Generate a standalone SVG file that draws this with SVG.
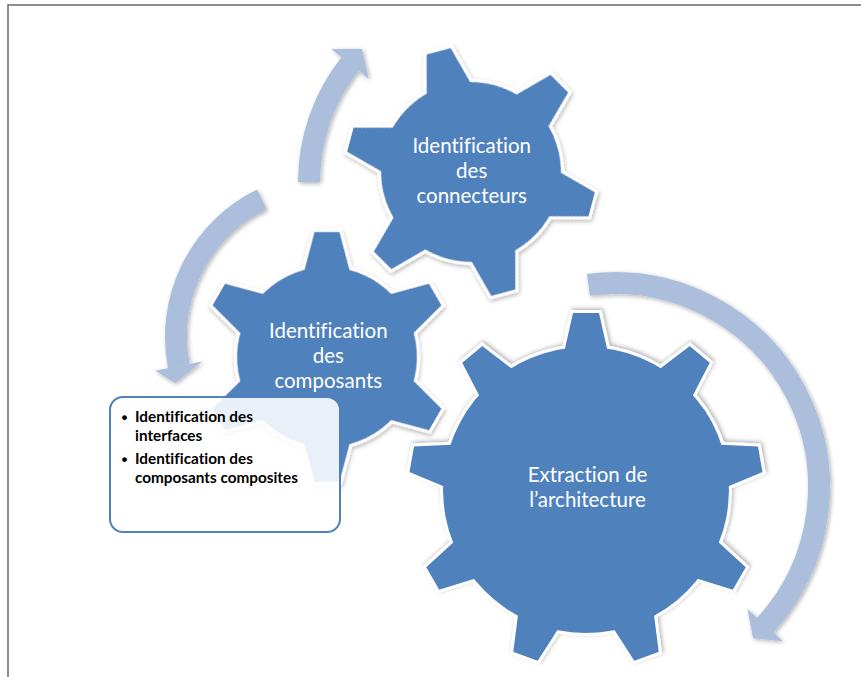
<svg xmlns="http://www.w3.org/2000/svg" xmlns:xlink="http://www.w3.org/1999/xlink" width="861" height="677" viewBox="0 0 861 677">
<style>
.gout{fill:#ffffff;stroke:#ffffff;stroke-width:6;stroke-linejoin:miter}
.gfill{fill:#4f81bd;stroke:none}
.gtxt{font-family:Lato,"Open Sans","Liberation Sans",sans-serif;font-size:20.5px;fill:#ffffff;text-anchor:middle;font-variant-ligatures:none}
.btxt{font-family:Lato,"Open Sans","Liberation Sans",sans-serif;font-size:15.3px;font-weight:bold;fill:#000000;font-variant-ligatures:none}
.bul{font-family:"Liberation Sans",sans-serif;font-size:17px;font-weight:bold;fill:#000000}
.shaft{fill:none;stroke:#abbedb;stroke-width:22;stroke-linecap:butt}
.head{fill:#abbedb;stroke:none}
.frame{stroke:#6b6b6b;stroke-width:1.5;fill:none}
</style>
<defs>
<filter id="sh" x="-10%" y="-10%" width="125%" height="125%">
<feDropShadow dx="1.5" dy="1.5" stdDeviation="2" flood-color="#000000" flood-opacity="0.3"/>
</filter>
<polygon id="t6" points="80,-24.4 125,-12.5 125,12.5 80,24.4"/>
<polygon id="t9" points="135,-22.4 177,-13 177,13 135,22.4"/>
<g id="g6">
<circle cx="0" cy="0" r="90"/>
<use xlink:href="#t6"/>
<use xlink:href="#t6" transform="rotate(60)"/>
<use xlink:href="#t6" transform="rotate(120)"/>
<use xlink:href="#t6" transform="rotate(180)"/>
<use xlink:href="#t6" transform="rotate(240)"/>
<use xlink:href="#t6" transform="rotate(300)"/>
</g>
<g id="g9">
<circle cx="0" cy="0" r="143"/>
<use xlink:href="#t9"/>
<use xlink:href="#t9" transform="rotate(40)"/>
<use xlink:href="#t9" transform="rotate(80)"/>
<use xlink:href="#t9" transform="rotate(120)"/>
<use xlink:href="#t9" transform="rotate(160)"/>
<use xlink:href="#t9" transform="rotate(200)"/>
<use xlink:href="#t9" transform="rotate(240)"/>
<use xlink:href="#t9" transform="rotate(280)"/>
<use xlink:href="#t9" transform="rotate(320)"/>
</g>
</defs>
<rect x="0" y="0" width="861" height="677" fill="#ffffff"/>
<path class="frame" d="M8,677 L8,5 L861,5"/>

<g id="connectors" filter="url(#sh)">
<path class="shaft" d="M309,182 A190,190 0 0 1 350.1,64.0"/>
<polygon class="head" points="331.3,49.1 361.9,49.1 368.9,78.9"/>
<path class="shaft" d="M261.9,199.5 A153,153 0 0 0 178.8,366.2"/>
<polygon class="head" points="155.2,370.8 175,383 202.4,361.6"/>
<path class="shaft" d="M588.4,284.8 A204,204 0 0 1 765.2,625.1"/>
<polygon class="head" points="782.9,641.3 753.0,638.3 747.5,608.9"/>
</g>

<g id="gear-extraction">
<g transform="translate(586,490) rotate(-90)" filter="url(#sh)">
<use xlink:href="#g9" class="gout"/>
<use xlink:href="#g9" class="gfill"/>
</g>
<text class="gtxt" x="587.5" y="481.7">Extraction de</text>
<text class="gtxt" x="587.5" y="506.7">l’architecture</text>
</g>

<g id="gear-connecteurs">
<g transform="translate(471,172) rotate(15)" filter="url(#sh)">
<use xlink:href="#g6" class="gout"/>
<use xlink:href="#g6" class="gfill"/>
</g>
<text class="gtxt" x="471.7" y="153.3">Identification</text>
<text class="gtxt" x="471.7" y="178.3">des</text>
<text class="gtxt" x="471.7" y="203.3">connecteurs</text>
</g>

<g id="gear-composants">
<g transform="translate(327,357) rotate(30)" filter="url(#sh)">
<use xlink:href="#g6" class="gout"/>
<use xlink:href="#g6" class="gfill"/>
</g>
<text class="gtxt" x="328.3" y="338.3">Identification</text>
<text class="gtxt" x="328.3" y="363.3">des</text>
<text class="gtxt" x="328.3" y="388.3">composants</text>
</g>

<g id="textbox">
<rect x="110" y="397" width="230" height="135" rx="13" ry="13" fill="#ffffff" fill-opacity="0.88" stroke="#4f81bd" stroke-width="2"/>
<text class="bul" x="121.5" y="422.5">•</text>
<text class="btxt" x="135" y="422.3">Identification des</text>
<text class="btxt" x="135" y="440.5">interfaces</text>
<text class="bul" x="121.5" y="464.5">•</text>
<text class="btxt" x="135" y="464.3">Identification des</text>
<text class="btxt" x="135" y="482.7">composants composites</text>
</g>
</svg>
